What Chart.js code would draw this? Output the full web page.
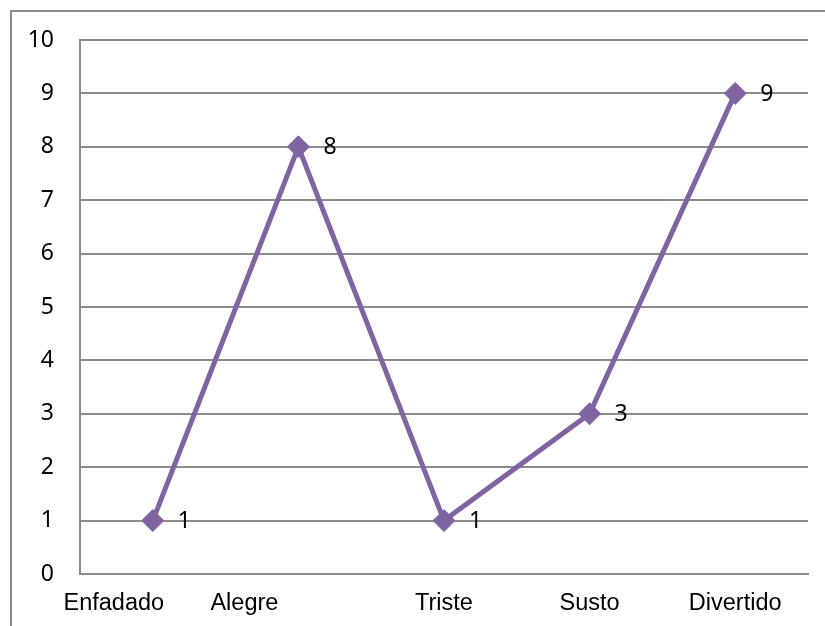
<!DOCTYPE html>
<html>
<head>
<meta charset="utf-8">
<script src="https://cdn.jsdelivr.net/npm/chart.js@4"></script>
<style>
    html, body { margin: 0; padding: 0; background: #fff; overflow: hidden; }
    #wrap { position: relative; width: 825px; height: 626px; }
    #frame {
        position: absolute; left: 10px; top: 10px;
        width: 840px; height: 640px;
        border: 2px solid #8c8c8c; box-sizing: border-box;
    }
    canvas { position: absolute; left: 0; top: 0; }
</style>
</head>
<body>
<div id="wrap">
    <div id="frame"></div>
    <canvas id="chart" width="825" height="626"></canvas>
</div>
<script>
const categories = ["Enfadado", "Alegre", "Triste", "Susto", "Divertido"];
const values = [1, 8, 1, 3, 9];
const yTicks = [0, 1, 2, 3, 4, 5, 6, 7, 8, 9, 10];

const lineColor = "#8064A2";
const gridColor = "#8c8c8c";
// the original nudges the first two category labels to the left
const labelShift = [-39, -54, 0, 0, 0];

// numbers next to each marker
const pointLabels = {
    id: "pointLabels",
    afterDatasetsDraw(chart) {
        const ctx = chart.ctx;
        const meta = chart.getDatasetMeta(0);
        ctx.save();
        ctx.font = "23px 'Noto Sans'";
        ctx.fillStyle = "#000";
        ctx.textAlign = "left";
        ctx.textBaseline = "middle";
        meta.data.forEach((pt, i) => {
            ctx.fillText(String(values[i]), pt.x + 25, pt.y + 1);
        });
        ctx.restore();
    }
};

// category labels under the axis
const categoryLabels = {
    id: "categoryLabels",
    afterDraw(chart) {
        const ctx = chart.ctx;
        const xScale = chart.scales.x;
        ctx.save();
        ctx.font = "23.5px 'Liberation Sans'";
        ctx.fillStyle = "#000";
        ctx.textAlign = "center";
        ctx.textBaseline = "middle";
        categories.forEach((c, i) => {
            ctx.fillText(c, xScale.getPixelForTick(i) + labelShift[i], chart.chartArea.bottom + 30);
        });
        ctx.restore();
    }
};

new Chart(document.getElementById("chart"), {
    type: "line",
    data: {
        labels: categories,
        datasets: [{
            data: values,
            borderColor: lineColor,
            backgroundColor: lineColor,
            borderWidth: 5,
            pointStyle: "rectRot",
            pointRadius: 11,
            pointHoverRadius: 11,
            pointBorderWidth: 1,
            tension: 0
        }]
    },
    options: {
        responsive: false,
        animation: false,
        layout: { padding: { top: 40, right: 17, left: 0, bottom: 0 } },
        plugins: {
            legend: { display: false },
            tooltip: { enabled: false }
        },
        scales: {
            x: {
                offset: true,
                grid: { display: false, drawTicks: false },
                border: { display: true, color: gridColor, width: 2 },
                ticks: { display: false },
                afterFit(scale) { scale.height = 52; }
            },
            y: {
                min: 0,
                max: 10,
                afterBuildTicks(scale) {
                    scale.ticks = yTicks.map(v => ({ value: v }));
                },
                grid: { color: gridColor, lineWidth: 2, drawTicks: false },
                border: { display: true, color: gridColor, width: 2 },
                ticks: {
                    color: "#000",
                    font: { family: "'Noto Sans'", size: 23 },
                    padding: 26
                },
                afterFit(scale) { scale.width = 80; }
            }
        }
    },
    plugins: [pointLabels, categoryLabels]
});
</script>
</body>
</html>
